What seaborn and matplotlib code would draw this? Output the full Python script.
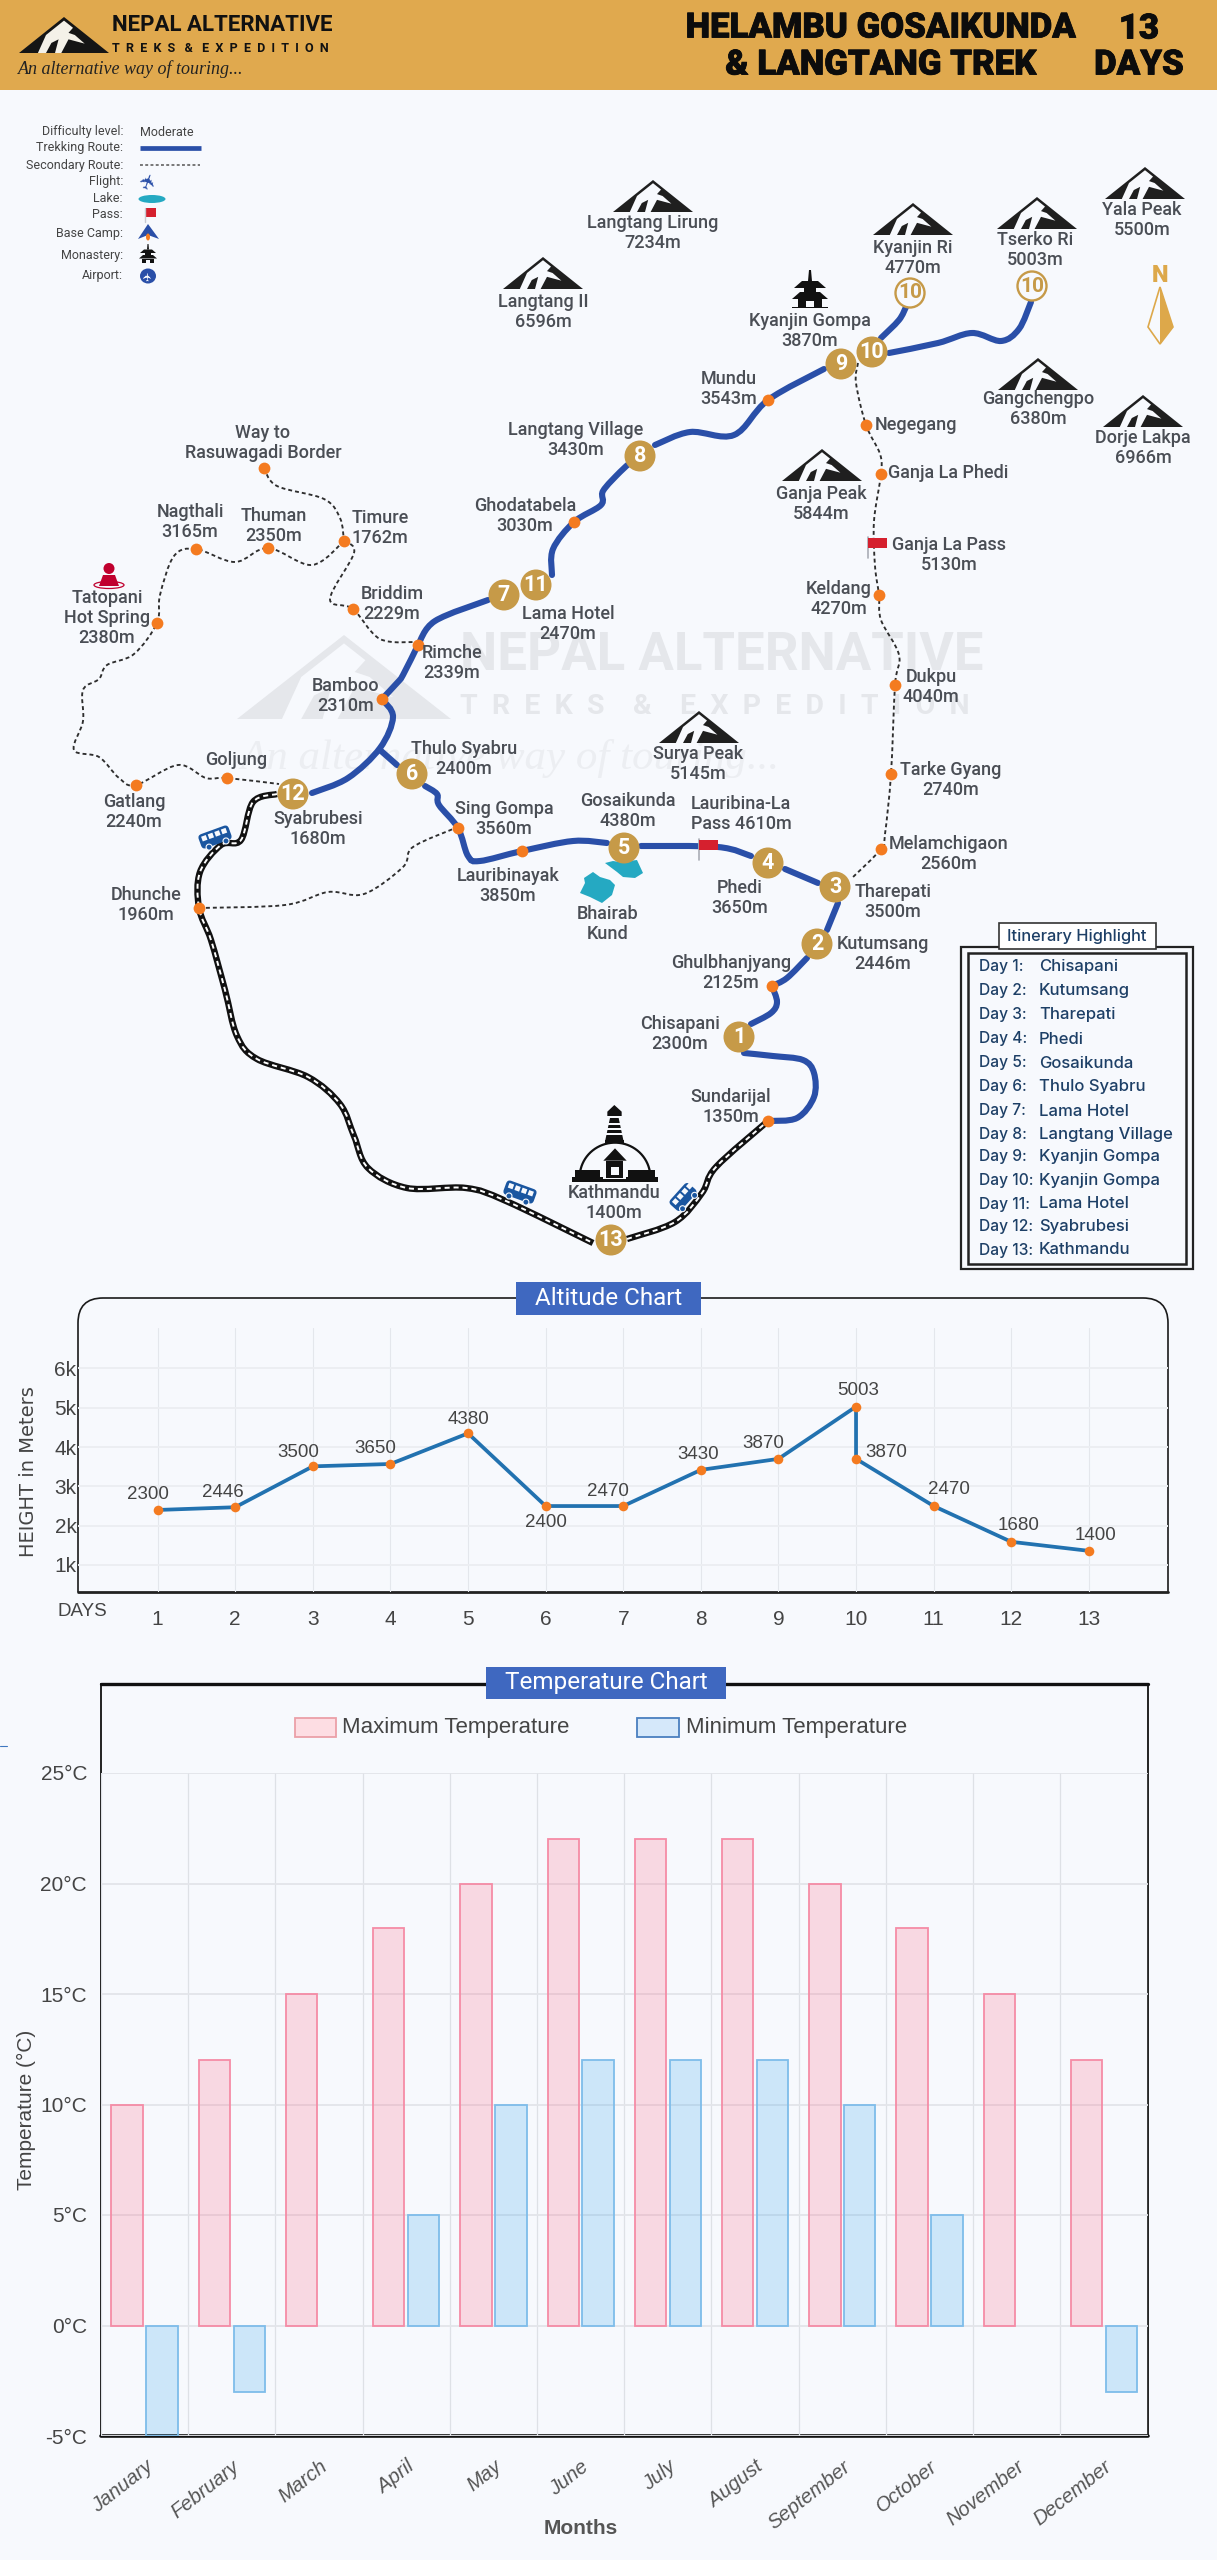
import numpy as np
import pandas as pd
import seaborn as sns
import matplotlib.pyplot as plt
import matplotlib.patheffects as pe
from matplotlib.patches import Circle, Ellipse, FancyBboxPatch, PathPatch, Polygon, Rectangle
from matplotlib.path import Path
from matplotlib.transforms import Affine2D, ScaledTranslation

W, H = 1217, 2560
BG = '#F7F9FD'
GOLD = '#C69A48'
BLUE = '#2A4FA8'
ORANGE = '#F47B20'
INK = '#4A4E55'
TEAL = '#25A9C2'
RED = '#D5202E'

# altitude chart
alt_days = [1, 2, 3, 4, 5, 6, 7, 8, 9, 10, 10, 11, 12, 13]
alt_heights = [2400, 2470, 3510, 3570, 4350, 2500, 2500, 3420, 3700, 5030, 3700, 2500, 1590, 1360]
alt_labels = ['2300', '2446', '3500', '3650', '4380', '2400', '2470', '3430', '3870', '5003', '3870', '2470', '1680', '1400']
alt_offsets = [(-10, 15), (-12, 15), (-15, 14), (-15, 15), (0, 14), (0, -16), (-15, 15), (-3, 15), (-15, 15), (2, 16), (30, 6), (15, 17), (7, 16), (7, 15)]
alt_ticks = [1000, 2000, 3000, 4000, 5000, 6000]

# temperature chart
months = ['January', 'February', 'March', 'April', 'May', 'June', 'July', 'August', 'September', 'October', 'November', 'December']
temp_max = [10, 12, 15, 18, 20, 22, 22, 22, 20, 18, 15, 12]
temp_min = [-5, -3, 0, 5, 10, 12, 12, 12, 10, 5, 0, -3]

# itinerary box
itinerary_days = ['Day 1:', 'Day 2:', 'Day 3:', 'Day 4:', 'Day 5:', 'Day 6:', 'Day 7:', 'Day 8:', 'Day 9:', 'Day 10:', 'Day 11:', 'Day 12:', 'Day 13:']
itinerary_stops = ['Chisapani', 'Kutumsang', 'Tharepati', 'Phedi', 'Gosaikunda', 'Thulo Syabru', 'Lama Hotel', 'Langtang Village', 'Kyanjin Gompa', 'Kyanjin Gompa', 'Lama Hotel', 'Syabrubesi', 'Kathmandu']
itinerary_y = [967, 991, 1015, 1039, 1063, 1087, 1111, 1134, 1157, 1180, 1204, 1227, 1250]

# map places, all in image pixels
place_labels = [
    ('Langtang Lirung\n7234m', 653, 233), ('Kyanjin Ri\n4770m', 913, 258), ('Tserko Ri\n5003m', 1035, 250),
    ('Yala Peak\n5500m', 1142, 220), ('Langtang II\n6596m', 543, 312), ('Gangchengpo\n6380m', 1038, 409),
    ('Dorje Lakpa\n6966m', 1143, 448), ('Ganja Peak\n5844m', 821, 504), ('Surya Peak\n5145m', 698, 764),
    ('Kyanjin Gompa\n3870m', 810, 331), ('Mundu\n3543m', 729, 389), ('Ganja La Pass\n5130m', 949, 555),
    ('Keldang\n4270m', 839, 599), ('Dukpu\n4040m', 931, 687), ('Tarke Gyang\n2740m', 951, 780),
    ('Melamchigaon\n2560m', 949, 854), ('Gosaikunda\n4380m', 628, 811), ('Lauribina-La\nPass 4610m', 741, 814),
    ('Phedi\n3650m', 740, 898), ('Tharepati\n3500m', 893, 902), ('Kutumsang\n2446m', 883, 954),
    ('Ghulbhanjyang\n2125m', 731, 973), ('Chisapani\n2300m', 680, 1034), ('Sundarijal\n1350m', 731, 1107),
    ('Kathmandu\n1400m', 614, 1203), ('Bhairab\nKund', 608, 924), ('Lauribinayak\n3850m', 508, 886),
    ('Sing Gompa\n3560m', 504, 819), ('Thulo Syabru\n2400m', 464, 759), ('Syabrubesi\n1680m', 318, 829),
    ('Dhunche\n1960m', 146, 905), ('Gatlang\n2240m', 134, 812), ('Goljung', 236, 760),
    ('Bamboo\n2310m', 346, 696), ('Rimche\n2339m', 452, 663), ('Briddim\n2229m', 392, 604),
    ('Lama Hotel\n2470m', 568, 624), ('Ghodatabela\n3030m', 525, 516), ('Langtang Village\n3430m', 576, 440),
    ('Timure\n1762m', 380, 528), ('Nagthali\n3165m', 190, 522), ('Thuman\n2350m', 274, 526),
    ('Way to\nRasuwagadi Border', 263, 443), ('Tatopani\nHot Spring\n2380m', 107, 618),
    ('Negegang', 916, 425), ('Ganja La Phedi', 948, 473),
]
day_markers = [('1', 739, 1037), ('2', 817, 944), ('3', 835, 887), ('4', 768, 863), ('5', 624, 848), ('6', 412, 774),
               ('7', 504, 595), ('8', 640, 456), ('9', 841, 364), ('10', 872, 352), ('11', 536, 585), ('12', 293, 794), ('13', 611, 1240)]
summit_markers = [('10', 910, 293), ('10', 1032, 286)]
node_x = [264, 344, 268, 196, 157, 353, 418, 382, 136, 227, 458, 522, 199, 574, 768, 866, 881, 879, 895, 891, 881, 772, 768]
node_y = [468, 541, 548, 549, 623, 609, 645, 699, 785, 778, 828, 851, 908, 522, 400, 425, 474, 595, 685, 774, 849, 986, 1121]
peak_icons = [(653, 180), (913, 203), (1037, 197), (1145, 167), (543, 257), (1038, 358), (1143, 395), (822, 449), (699, 711)]

trek_routes = [
    [(768, 1121), (797, 1118), (814, 1097), (814, 1073), (803, 1060), (773, 1056), (744, 1053)],
    [(751, 1024), (771, 1013), (777, 1002), (772, 986)],
    [(772, 986), (787, 978), (807, 958)],
    [(827, 930), (838, 903)],
    [(818, 883), (785, 869)],
    [(751, 856), (718, 847), (641, 846)],
    [(607, 843), (573, 841), (522, 851), (480, 861), (468, 856), (458, 828), (439, 805), (437, 794), (425, 786)],
    [(397, 765), (380, 750)],
    [(312, 793), (348, 778), (380, 748), (393, 717), (382, 699)],
    [(382, 699), (397, 683), (403, 675), (418, 645)],
    [(418, 645), (435, 621), (488, 600)],
    [(552, 575), (553, 549), (574, 522), (601, 505), (603, 491), (620, 472), (630, 463)],
    [(655, 445), (690, 432), (734, 435), (768, 400), (824, 369)],
    [(881, 338), (899, 320), (906, 307)],
    [(889, 353), (938, 343), (972, 333), (1001, 341), (1019, 329), (1031, 302)],
]
side_routes = [
    [(264, 468), (277, 486), (324, 499), (340, 518), (344, 541)],
    [(344, 541), (312, 565), (268, 548), (235, 562), (196, 549), (174, 556), (160, 595), (157, 623), (134, 654),
     (107, 665), (99, 679), (83, 690), (83, 721), (74, 750), (99, 757), (119, 778), (136, 785), (178, 765), (206, 778), (227, 778), (279, 784)],
    [(344, 541), (354, 553), (330, 599), (353, 609), (380, 639), (418, 642)],
    [(858, 363), (856, 383), (866, 425), (880, 454), (881, 474), (874, 521), (875, 566), (879, 595), (881, 620),
     (899, 655), (895, 685), (891, 774), (885, 834), (881, 849), (852, 878)],
    [(199, 908), (285, 905), (328, 892), (364, 894), (403, 867), (413, 847), (458, 827)],
]
road_routes = [
    [(277, 794), (253, 802), (241, 840), (221, 845), (200, 872), (199, 908), (211, 940), (225, 990), (237, 1036),
     (257, 1059), (308, 1077), (340, 1104), (354, 1136), (368, 1168), (407, 1188), (466, 1188), (506, 1201), (593, 1243)],
    [(627, 1239), (675, 1222), (702, 1193), (716, 1167), (768, 1121)],
]

# legend at the top left
key_labels = ['Difficulty level:', 'Trekking Route:', 'Secondary Route:', 'Flight:', 'Lake:', 'Pass:', 'Base Camp:', 'Monastery:', 'Airport:']
key_y = [132, 148, 165, 182, 198, 215, 233, 255, 276]

sns.set_theme(style='white')
plt.rcParams['font.family'] = ['Roboto', 'DejaVu Sans']
plt.rcParams['axes.unicode_minus'] = False

fig = plt.figure(figsize=(W / 100, H / 100), dpi=100, facecolor=BG)
m = fig.add_axes([0, 0, 1, 1], zorder=0)
m.set_xlim(0, W)
m.set_ylim(H, 0)
m.axis('off')


def place_axes(left, top, right, bottom):
    ax = fig.add_axes([left / W, 1 - bottom / H, (right - left) / W, (bottom - top) / H], zorder=2)
    ax.set_facecolor('none')
    return ax


def smooth_path(pts):
    # catmull-rom turned into bezier segments, so the routes bend like the drawn ones
    p = np.array(pts, dtype=float)
    q = np.vstack([p[0], p, p[-1]])
    verts, codes = [p[0]], [Path.MOVETO]
    for i in range(1, len(q) - 2):
        verts += [q[i] + (q[i + 1] - q[i - 1]) / 6, q[i + 1] - (q[i + 2] - q[i]) / 6, q[i + 1]]
        codes += [Path.CURVE4] * 3
    return Path(verts, codes)


def route(pts, **kw):
    m.add_patch(PathPatch(smooth_path(pts), fill=False, **kw))


def mountain(cx, top, w=80, h=32, dark='#1F1F1F', light=BG, z=4):
    outline = [(0, 1), (0.5, 0), (1, 1)]
    streak = [(0.50, 0.10), (0.30, 0.50), (0.21, 1.0), (0.30, 1.0), (0.36, 0.72), (0.44, 0.62), (0.40, 1.0), (0.47, 1.0),
              (0.55, 0.62), (0.73, 0.74), (0.62, 0.50), (0.55, 0.44), (0.60, 0.30)]
    for shape, col in ((outline, dark), (streak, light)):
        xy = [(cx - w / 2 + u * w, top + v * h) for u, v in shape]
        m.add_patch(Polygon(xy, closed=True, fc=col, ec='none', zorder=z))


def monastery(cx, top, scale=1.0):
    def poly(pts, col='#111111'):
        m.add_patch(Polygon([(cx + a * scale, top + b * scale) for a, b in pts], fc=col, ec='none', zorder=5))
    poly([(-1, 0), (1, 0), (2, 11), (-2, 11)])
    poly([(-8, 11), (8, 11), (16, 18), (-16, 18)])
    poly([(-6, 18), (6, 18), (6, 22), (-6, 22)])
    poly([(-10, 22), (10, 22), (18, 29), (-18, 29)])
    poly([(-12, 29), (12, 29), (12, 37), (-12, 37)])
    poly([(-4, 31), (4, 31), (4, 37), (-4, 37)], BG)
    poly([(-18, 37), (18, 37), (18, 38), (-18, 38)])


def stupa(left, top):
    def box(x0, y0, x1, y1, col='#111111', z=5):
        m.add_patch(Rectangle((left + x0 / 3, top + y0 / 3), (x1 - x0) / 3, (y1 - y0) / 3, fc=col, ec='none', zorder=z))

    def poly(pts, col='#111111', z=5):
        m.add_patch(Polygon([(left + a / 3, top + b / 3) for a, b in pts], fc=col, ec='none', zorder=z))
    poly([(163, 45), (185, 65), (185, 78), (142, 78), (142, 65)])
    poly([(150, 84), (176, 84), (190, 150), (136, 150)])
    for y in (100, 115, 130):
        box(130, y, 195, y + 4, BG, 6)
    box(135, 150, 192, 158)
    ang = np.linspace(np.pi, 2 * np.pi, 40)
    dome = np.column_stack([left + (165 + 106 * np.cos(ang)) / 3, top + (262 + 104 * np.sin(ang)) / 3])
    m.add_patch(Polygon(dome, closed=False, fc=BG, ec='#111111', lw=1.6, zorder=4))
    box(45, 240, 120, 262)
    box(35, 262, 130, 275)
    box(205, 240, 285, 262)
    box(198, 262, 293, 275)
    box(125, 266, 200, 275)
    poly([(130, 212), (165, 175), (200, 212)])
    box(138, 212, 190, 264)
    box(152, 230, 176, 255, BG, 6)


def bus(cx, cy, angle, length=32, height=15):
    tr = Affine2D().rotate_deg_around(cx, cy, angle) + m.transData
    body = FancyBboxPatch((cx - length / 2, cy - height / 2), length, height, boxstyle='round,pad=0,rounding_size=4',
                          fc='#1A56A0', ec='none', transform=tr, zorder=5)
    m.add_patch(body)
    for i in range(4):
        m.add_patch(Rectangle((cx - length / 2 + 3 + i * 7, cy - height / 2 + 2.5), 5, 5, fc=BG, ec='none', transform=tr, zorder=6))
    for off in (-9, 9):
        m.add_patch(Circle((cx + off, cy + height / 2), 3, fc='#1A56A0', ec=BG, lw=0.8, transform=tr, zorder=6))


def flag(x, y, w=19, h=10, pole=20):
    m.plot([x, x], [y - 1, y + pole], color='#A9ADB5', lw=1.2, zorder=5)
    m.add_patch(Rectangle((x, y), w, h, fc=RED, ec='none', zorder=6))


def badge(txt, left, top, right, bottom):
    m.add_patch(Rectangle((left, top), right - left, bottom - top, fc='#3F68C0', ec='none', zorder=6))
    m.text((left + right) / 2, (top + bottom) / 2, txt, color='white', fontsize=17.5, ha='center', va='center', zorder=7)


# header band
m.add_patch(Rectangle((0, 0), W, 90, fc='#E0A94E', ec='none'))
mountain(64, 17, w=90, h=36, dark='#151515', light='#F4F1E8')
m.text(112, 25, 'NEPAL ALTERNATIVE', fontsize=16, weight='bold', color='#111111', va='center')
m.text(112, 48, 'T  R  E  K  S   &   E  X  P  E  D  I  T  I  O  N', fontsize=9, weight='bold', color='#111111', va='center')
m.text(18, 69, 'An alternative way of touring...', family='Liberation Serif', style='italic', fontsize=13, color='#222222', va='center')
heavy = [pe.withStroke(linewidth=0.6, foreground='#0C0C0C')]
for txt, x, y in [('HELAMBU GOSAIKUNDA', 881, 28), ('& LANGTANG TREK', 881, 65), ('13', 1139, 29), ('DAYS', 1139, 65)]:
    m.text(x, y, txt, fontsize=25, weight='black', color='#0C0C0C', ha='center', va='center', path_effects=heavy)

# watermark
mountain(344, 635, w=214, h=84, dark='#E5E7EB', z=1)
m.text(460, 655, 'NEPAL ALTERNATIVE', fontsize=38, weight='bold', color='#E5E7EB', va='center', zorder=1)
m.text(460, 707, 'T  R  E  K  S    &    E  X  P  E  D  I  T  I  O  N', fontsize=20.5, color='#E5E7EB', weight='bold', va='center', zorder=1)
m.text(240, 759, 'An alternative way of touring...', family='Liberation Serif', style='italic', fontsize=31, color='#ECEEF2', va='center', zorder=1)

# legend
for txt, y in zip(key_labels, key_y):
    m.text(123, y, txt, fontsize=9, color='#444444', ha='right', va='center')
m.text(140, 132, 'Moderate', fontsize=9, color='#444444', va='center')
m.plot([140, 201], [148, 148], color=BLUE, lw=3.4, solid_capstyle='butt')
m.plot([140, 200], [165, 165], color='#777777', lw=1.4, ls=(0, (1.5, 1.2)))
m.text(150, 181, '\u2708', family='DejaVu Sans', fontsize=15, color=BLUE, ha='center', va='center', rotation=70)
m.add_patch(Ellipse((152, 199), 27, 8, fc=TEAL, ec='none'))
m.plot([145, 145], [208, 222], color='#C8CBD1', lw=1)
m.add_patch(Rectangle((145, 208), 11, 9, fc=RED, ec='none'))
m.add_patch(Polygon([(148, 224), (159, 239), (148, 235), (138, 239)], fc=BLUE, ec='none'))
m.add_patch(Ellipse((148, 237), 4, 7, fc=ORANGE, ec='none'))
monastery(148, 244, 0.5)
m.add_patch(Ellipse((148, 276), 16, 15, fc=BLUE, ec='none'))
m.text(148, 276, '\u2708', family='DejaVu Sans', fontsize=8, color='white', ha='center', va='center', rotation=90)

# routes
for pts in road_routes:
    route(pts, ec='#111111', lw=4.6, capstyle='butt', zorder=2)
    route(pts, ec='white', lw=1.4, ls=(0, (2.6, 2.0)), zorder=2.1)
for pts in trek_routes:
    route(pts, ec=BLUE, lw=4.4, capstyle='round', zorder=2.2)
for pts in side_routes:
    route(pts, ec='#2E2E2E', lw=1.35, ls=(0, (2.1, 1.6)), zorder=2.1)

sns.scatterplot(x=node_x, y=node_y, color=ORANGE, s=72, linewidth=0, zorder=3.5, ax=m)
m.set_xlim(0, W)
m.set_ylim(H, 0)

for txt, x, y in day_markers:
    m.add_patch(Circle((x, y), 15.5, fc=GOLD, ec='none', zorder=4))
    m.text(x, y, txt, color='white', fontsize=15.5, weight='bold', ha='center', va='center', zorder=5)
for txt, x, y in summit_markers:
    m.add_patch(Circle((x, y), 14.5, fc=BG, ec=GOLD, lw=1.7, zorder=4))
    m.text(x, y, txt, color=GOLD, fontsize=15, weight='bold', ha='center', va='center', zorder=5)

# place names and map icons
for txt, x, y in place_labels:
    m.text(x, y, txt, color=INK, fontsize=13, weight=500, ha='center', va='center', linespacing=1.12, zorder=5)
for x, top in peak_icons:
    mountain(x, top)
monastery(810, 270)
stupa(560, 1090)
flag(868, 538)
flag(699, 840)
bus(215, 837, -20)
bus(520, 1192, 20)
bus(683, 1197, -48, length=28, height=15)
m.add_patch(Polygon([(605, 863), (613, 861), (620, 862), (637, 860), (643, 873), (635, 878), (623, 877), (617, 872)], fc=TEAL, ec='none', zorder=3))
m.add_patch(Polygon([(580, 893), (585, 883), (584, 878), (593, 872), (600, 877), (610, 880), (615, 885), (612, 895), (602, 903), (590, 897)], fc=TEAL, ec='none', zorder=3))
m.add_patch(Circle((109, 568.5), 5.5, fc='#C0002E', ec='none'))
m.add_patch(Polygon([(103, 575), (115, 575), (119, 586), (99, 586)], fc='#C0002E', ec='none'))
m.add_patch(Ellipse((109, 585), 30, 7, fc='none', ec='#C0002E', lw=0.9))
m.text(1160, 276, 'N', color='#DDA84A', fontsize=17, weight='black', ha='center', va='center')
m.add_patch(Polygon([(1160, 287), (1173, 327), (1160, 344), (1148, 327)], fc=BG, ec='#DDA84A', lw=1.2))
m.add_patch(Polygon([(1160, 287), (1173, 327), (1160, 344)], fc='#DDA84A', ec='none'))

# itinerary box
m.add_patch(Rectangle((961, 947), 232, 322, fc=BG, ec='#222222', lw=1.6))
m.add_patch(Rectangle((968, 953), 218, 311, fc=BG, ec='#222222', lw=1.8))
m.add_patch(Rectangle((999, 923), 157, 26, fc='white', ec='#333333', lw=1.2, zorder=3))
m.text(1077, 936, 'Itinerary Highlight', family='Inter', fontsize=11.8, weight=500, color='#1D3F66', ha='center', va='center', zorder=4)
for d, stop, y in zip(itinerary_days, itinerary_stops, itinerary_y):
    m.text(979, y, d, family='Inter', fontsize=11.2, weight=500, color='#1D3F66', va='center')
    m.text(1039, y, stop, family='Inter', fontsize=12, weight=500, color='#1D3F66', va='center')

# altitude chart
frame = Path([(78, 1592), (78, 1323), (78, 1298), (103, 1298), (1143, 1298), (1168, 1298), (1168, 1323), (1168, 1592)],
             [Path.MOVETO, Path.LINETO, Path.CURVE3, Path.CURVE3, Path.LINETO, Path.CURVE3, Path.CURVE3, Path.LINETO])
m.add_patch(PathPatch(frame, fill=False, ec='#1A1A1A', lw=1.2))
m.plot([78, 1168], [1592, 1592], color='#222222', lw=2)
badge('Altitude Chart', 516, 1282, 701, 1315)

alt_df = pd.DataFrame({'day': alt_days, 'height': alt_heights})
a = place_axes(78, 1328, 1168, 1592)
sns.lineplot(data=alt_df, x='day', y='height', sort=False, estimator=None, color='#2272B0', lw=2.7, ax=a, zorder=2)
sns.scatterplot(data=alt_df, x='day', y='height', color=ORANGE, s=48, linewidth=0, ax=a, zorder=3)
a.set_xlim(-0.026, 14.02)
a.set_ylim(313, 7030)
a.set_xticks(range(1, 14))
a.set_yticks(alt_ticks)
a.set_yticklabels([f'{t // 1000}k' for t in alt_ticks], family='Liberation Sans', fontsize=15, color='#444444')
a.set_xticklabels([str(d) for d in range(1, 14)], family='Liberation Sans', fontsize=15, color='#444444')
a.tick_params(axis='y', length=0, pad=1)
a.tick_params(axis='x', length=0, pad=13)
a.grid(True, axis='y', color='#ECEEF2', lw=1.4)
a.grid(True, axis='x', color='#E4E7EC', lw=0.8)
a.set_axisbelow(True)
a.set_xlabel('')
a.set_ylabel('')
sns.despine(ax=a, left=True, bottom=True)
for d, h, txt, off in zip(alt_days, alt_heights, alt_labels, alt_offsets):
    a.annotate(txt, (d, h), xytext=off, textcoords='offset pixels', family='Liberation Sans', fontsize=13.5, color='#444444', ha='center', va='center')
m.text(82, 1612, 'DAYS', family='Liberation Sans', fontsize=13.5, color='#444444', ha='center', va='center')
m.text(29, 1472, 'HEIGHT in Meters', family='DejaVu Sans', fontsize=14, color='#444444', rotation=90, ha='center', va='center')

# temperature chart
m.add_patch(Rectangle((101, 1684), 1046.5, 752, fc='none', ec='#111111', lw=1.3))
m.plot([101, 1147.5], [1684, 1684], color='#111111', lw=2.4)
m.plot([101, 1147.5], [2436, 2436], color='#111111', lw=2.6)
m.plot([0, 7], [1746, 1746], color='#3F78C0', lw=0.8)
badge('Temperature Chart', 486, 1667, 726, 1699)

temp_df = pd.DataFrame({
    'month': months * 2,
    'temp': temp_max + temp_min,
    'series': ['Maximum Temperature'] * 12 + ['Minimum Temperature'] * 12,
})
t = place_axes(101, 1773, 1147.5, 2436)
sns.barplot(data=temp_df, x='month', y='temp', hue='series', palette=['#FF6384', '#36A2EB'], width=0.8, gap=0.1,
            saturation=1, legend=False, ax=t, zorder=2)
fills = [(1.0, 0.39, 0.52, 0.22), (0.21, 0.64, 0.92, 0.22)]
edges = ['#F58CA6', '#7EBDEA']
for cont, fc, ec in zip(t.containers, fills, edges):
    for bar in cont:
        bar.set_facecolor(fc)
        bar.set_edgecolor(ec)
        bar.set_linewidth(1.3 if bar.get_height() != 0 else 0)
t.set_xlim(-0.5, 11.5)
t.set_ylim(-5, 25)
t.set_yticks(range(-5, 30, 5))
t.set_yticklabels([f'{v}°C' for v in range(-5, 30, 5)], family='Liberation Sans', fontsize=15, color='#444444')
t.set_xticks(range(12))
t.set_xticklabels(months, family='Liberation Sans', style='italic', fontsize=14.5, color='#555555', rotation=38, ha='right', rotation_mode='anchor')
for lab in t.get_xticklabels():
    lab.set_transform(lab.get_transform() + ScaledTranslation(0.1, 0, fig.dpi_scale_trans))
t.set_xticks(np.arange(-0.5, 12, 1), minor=True)
t.tick_params(axis='x', which='major', length=0, pad=15)
t.tick_params(axis='x', which='minor', length=7, width=0.8, color='#D9DCE2')
t.tick_params(axis='y', length=4, width=1, color='#E0E2E8', pad=6)
t.grid(True, axis='y', color='#E3E5EA', lw=1.3)
t.grid(True, axis='x', which='minor', color='#DEE1E6', lw=0.9)
t.grid(False, axis='x', which='major')
t.set_axisbelow(True)
t.set_xlabel('')
t.set_ylabel('')
sns.despine(ax=t, left=True, bottom=True)

m.add_patch(Rectangle((295, 1718), 41, 19, fc='#FDDDE3', ec='#EBA0A8', lw=1.3))
m.add_patch(Rectangle((637, 1718), 42, 19, fc='#D5E8FA', ec='#4A7FBF', lw=1.3))
m.text(342, 1728, 'Maximum Temperature', family='Liberation Sans', fontsize=16, color='#444444', va='center')
m.text(686, 1728, 'Minimum Temperature', family='Liberation Sans', fontsize=16, color='#444444', va='center')
m.text(581, 2528, 'Months', family='Liberation Sans', fontsize=15, weight='bold', color='#555555', ha='center', va='center')
m.text(26, 2110, 'Temperature (°C)', family='Liberation Sans', fontsize=15, color='#444444', rotation=90, ha='center', va='center')

fig.savefig('out.png', dpi=100, facecolor=BG)
